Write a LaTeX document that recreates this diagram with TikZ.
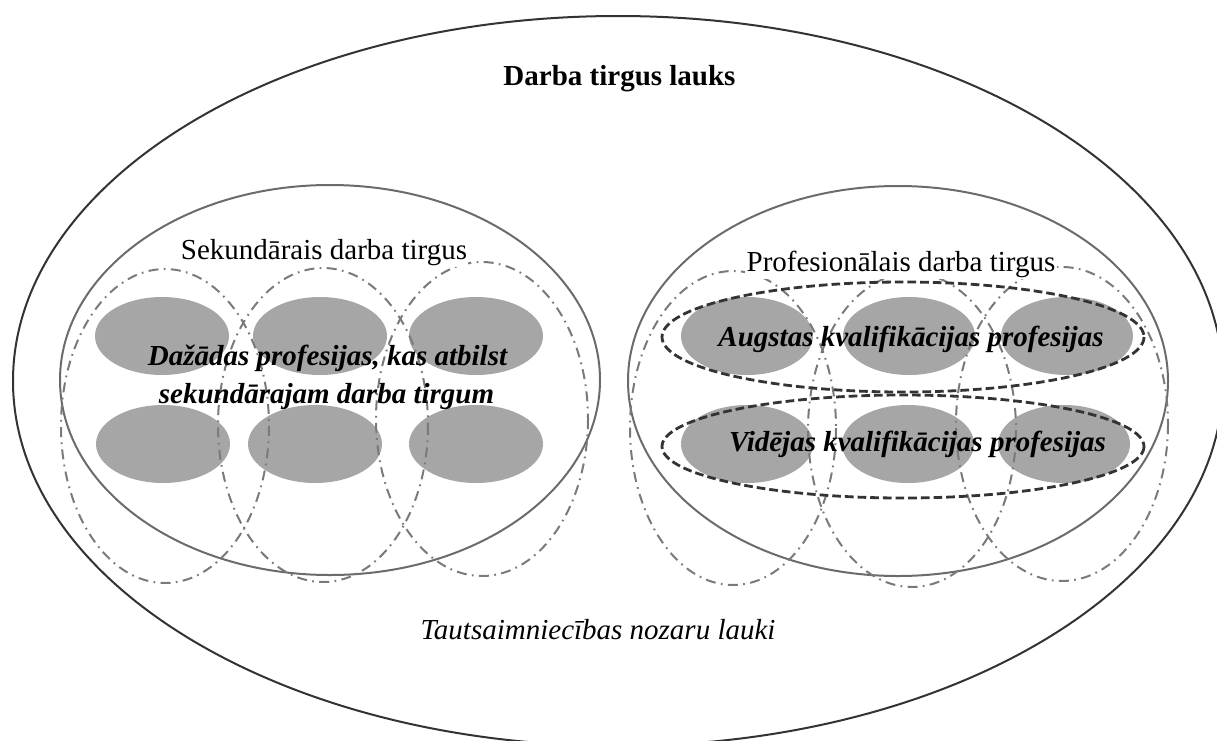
\documentclass[tikz,border=0pt]{standalone}
\usepackage{fontspec}
\setmainfont{Liberation Serif}
\begin{document}
\begin{tikzpicture}[x=0.75pt,y=-0.75pt,
  outerline/.style={draw=black!80, line width=1.5pt},
  marketline/.style={draw=black!58, line width=1.5pt},
  profblob/.style={fill=black!35, draw=none},
  branchline/.style={draw=black!52, line width=1.5pt, dash pattern=on 7.5pt off 4pt on 1.3pt off 4pt},
  levelline/.style={draw=black!80, line width=2.1pt, dash pattern=on 6.5pt off 3pt},
  lbl/.style={font=\fontsize{21.75pt}{26pt}\selectfont, inner sep=0pt, anchor=base},
  whitelbl/.style={lbl, fill=white, inner sep=1pt},
]
\useasboundingbox (0,0) rectangle (1217,740);
\clip (0,0) rectangle (1217,740);

% outer field
\draw[outerline] (618,381) ellipse [x radius=605, y radius=365];

% the two markets
\draw[marketline] (330,380) ellipse [x radius=270, y radius=195];
\draw[marketline] (898,381) ellipse [x radius=270, y radius=195];

% professions, secondary market
\fill[profblob] (162,336) ellipse [x radius=67, y radius=39];
\fill[profblob] (320,336) ellipse [x radius=67, y radius=39];
\fill[profblob] (476,336) ellipse [x radius=67, y radius=39];
\fill[profblob] (163,444) ellipse [x radius=67, y radius=39];
\fill[profblob] (315,444) ellipse [x radius=67, y radius=39];
\fill[profblob] (476,444) ellipse [x radius=67, y radius=39];

% professions, professional market
\fill[profblob] (747,336) ellipse [x radius=66, y radius=39];
\fill[profblob] (909,336) ellipse [x radius=66, y radius=39];
\fill[profblob] (1067,336) ellipse [x radius=66, y radius=39];
\fill[profblob] (747,444) ellipse [x radius=66, y radius=39];
\fill[profblob] (908,444) ellipse [x radius=66, y radius=39];
\fill[profblob] (1064,444) ellipse [x radius=66, y radius=39];

% branch fields (dash-dot)
\draw[branchline] (165,426) ellipse [x radius=104, y radius=157];
\draw[branchline] (323,425) ellipse [x radius=105, y radius=157];
\draw[branchline] (482,419) ellipse [x radius=106, y radius=157];
\draw[branchline] (733,428) ellipse [x radius=103, y radius=157];
\draw[branchline] (912,430) ellipse [x radius=104, y radius=157];
\draw[branchline] (1062,424) ellipse [x radius=106, y radius=157];

% qualification levels (dashed)
\draw[levelline] (903,337) ellipse [x radius=241, y radius=55];
\draw[levelline] (903,446.5) ellipse [x radius=241, y radius=51.5];

% labels
\node[lbl, font=\fontsize{21.75pt}{26pt}\selectfont\bfseries] (title) at (619.5,85) {Darba tirgus lauks};
\node[whitelbl] (sek) at (324,259.5) {Sekundārais darba tirgus};
\node[whitelbl] (prof) at (901,271.5) {Profesionālais darba tirgus};
\node[lbl, font=\fontsize{21.75pt}{26pt}\selectfont\bfseries\itshape] (daz1) at (327.5,365) {Dažādas profesijas, kas atbilst};
\node[lbl, font=\fontsize{21.75pt}{26pt}\selectfont\bfseries\itshape] (daz2) at (326.5,403.5) {sekundārajam darba tirgum};
\node[lbl, font=\fontsize{21.75pt}{26pt}\selectfont\bfseries\itshape] (augst) at (911,346) {Augstas kvalifikācijas profesijas};
\node[lbl, font=\fontsize{21.75pt}{26pt}\selectfont\bfseries\itshape] (vid) at (917.5,451) {Vidējas kvalifikācijas profesijas};
\node[lbl, font=\fontsize{21.75pt}{26pt}\selectfont\itshape] (taut) at (598,639) {Tautsaimniecības nozaru lauki};
\end{tikzpicture}
\end{document}
